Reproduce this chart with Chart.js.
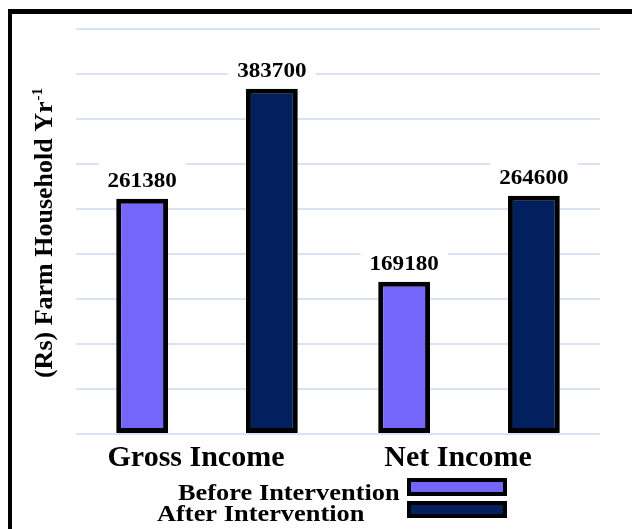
<!DOCTYPE html>
<html>
<head>
<meta charset="utf-8">
<script src="https://cdn.jsdelivr.net/npm/chart.js@4.4.1/dist/chart.umd.min.js"></script>
<style>
  html, body { margin: 0; padding: 0; background: #fff; }
  #wrap { position: relative; width: 632px; height: 529px; }
</style>
</head>
<body>
<div id="wrap"><canvas id="chart" width="632" height="529"></canvas></div>
<script>
const categories = ["Gross Income", "Net Income"];
const seriesNames = ["Before Intervention", "After Intervention"];
const beforeValues = [261380, 169180];
const afterValues = [383700, 264600];
const yMax = 450000;
const yStep = 50000;

const SERIF = '"Liberation Serif", "Times New Roman", serif';
const colors = ["#7566fa", "#02205e"];

function drawStretched(ctx, text, x, y, sx, align) {
  ctx.save();
  ctx.translate(x, y);
  ctx.scale(sx, 1);
  ctx.textAlign = align;
  ctx.fillText(text, 0, 0);
  ctx.restore();
}

const decorPlugin = {
  id: "decor",
  beforeDraw(chart) {
    const ctx = chart.ctx;
    ctx.save();
    ctx.fillStyle = "#fff";
    ctx.fillRect(0, 0, chart.width, chart.height);
    // frame (top + left edge, the rest is cut off in the original)
    ctx.fillStyle = "#000";
    ctx.fillRect(8, 9, chart.width - 8, 5);
    ctx.fillRect(8, 9, 4, chart.height - 9);
    ctx.restore();
  },
  afterDatasetsDraw(chart) {
    const ctx = chart.ctx;
    const area = chart.chartArea;
    ctx.save();
    ctx.textBaseline = "alphabetic";

    // value labels on white boxes
    ctx.font = "bold 22px " + SERIF;
    chart.data.datasets.forEach((ds, di) => {
      const meta = chart.getDatasetMeta(di);
      meta.data.forEach((bar, i) => {
        const text = String(ds.data[i]);
        const w = ctx.measureText(text).width * 1.05;
        const base = bar.y - 12;
        ctx.fillStyle = "#fff";
        ctx.fillRect(bar.x - w / 2 - 9, base - 25, w + 18, 29);
        ctx.fillStyle = "#000";
        drawStretched(ctx, text, bar.x, base, 1.05, "center");
      });
    });

    // category labels
    const xs = chart.scales.x;
    ctx.font = "bold 30px " + SERIF;
    ctx.fillStyle = "#000";
    chart.data.labels.forEach((lab, i) => {
      ctx.textAlign = "center";
      ctx.fillText(lab, xs.getPixelForTick(i) - 11, 466);
    });

    // y axis title with superscript
    const main = "(Rs) Farm Household Yr";
    const sup = "-1";
    ctx.font = "bold 26px " + SERIF;
    const mw = ctx.measureText(main).width;
    ctx.font = "bold 15px " + SERIF;
    const sw = ctx.measureText(sup).width;
    ctx.translate(52, (area.top + area.bottom) / 2 + 2);
    ctx.rotate(-Math.PI / 2);
    ctx.textAlign = "left";
    ctx.font = "bold 26px " + SERIF;
    ctx.fillText(main, -(mw + sw) / 2, 0);
    ctx.font = "bold 15px " + SERIF;
    ctx.fillText(sup, -(mw + sw) / 2 + mw + 1, -10);
    ctx.restore();

    // legend
    ctx.save();
    const rows = [
      { textX: 178, base: 500, boxY: 478, boxH: 18 },
      { textX: 157, base: 521, boxY: 501, boxH: 17 },
    ];
    ctx.font = "bold 24px " + SERIF;
    chart.data.datasets.forEach((ds, di) => {
      const r = rows[di];
      ctx.fillStyle = "#000";
      ctx.textBaseline = "alphabetic";
      drawStretched(ctx, ds.label, r.textX, r.base, 1.1, "left");
      ctx.fillRect(407, r.boxY, 100, r.boxH);
      ctx.fillStyle = ds.backgroundColor;
      ctx.fillRect(411, r.boxY + 4, 92, r.boxH - 8);
    });
    ctx.restore();
  },
};

new Chart(document.getElementById("chart").getContext("2d"), {
  type: "bar",
  data: {
    labels: categories,
    datasets: [
      {
        label: seriesNames[0],
        data: beforeValues,
        backgroundColor: colors[0],
        borderColor: "#000",
        borderWidth: 5,
        borderSkipped: false,
        barPercentage: 0.4,
        categoryPercentage: 0.99,
      },
      {
        label: seriesNames[1],
        data: afterValues,
        backgroundColor: colors[1],
        borderColor: "#000",
        borderWidth: 5,
        borderSkipped: false,
        barPercentage: 0.4,
        categoryPercentage: 0.99,
      },
    ],
  },
  options: {
    responsive: false,
    animation: false,
    layout: { padding: { top: 29, right: 32, left: 0, bottom: 0 } },
    plugins: {
      legend: { display: false },
      tooltip: { enabled: false },
    },
    scales: {
      x: {
        grid: { display: false },
        border: { display: false },
        ticks: { display: false },
        afterFit: (s) => { s.height = 95; },
      },
      y: {
        min: 0,
        max: yMax,
        ticks: { display: false, stepSize: yStep },
        grid: { color: "#dae3f1", lineWidth: 2, drawTicks: false },
        border: { display: false },
        afterFit: (s) => { s.width = 76; },
      },
    },
  },
  plugins: [decorPlugin],
});
</script>
</body>
</html>
